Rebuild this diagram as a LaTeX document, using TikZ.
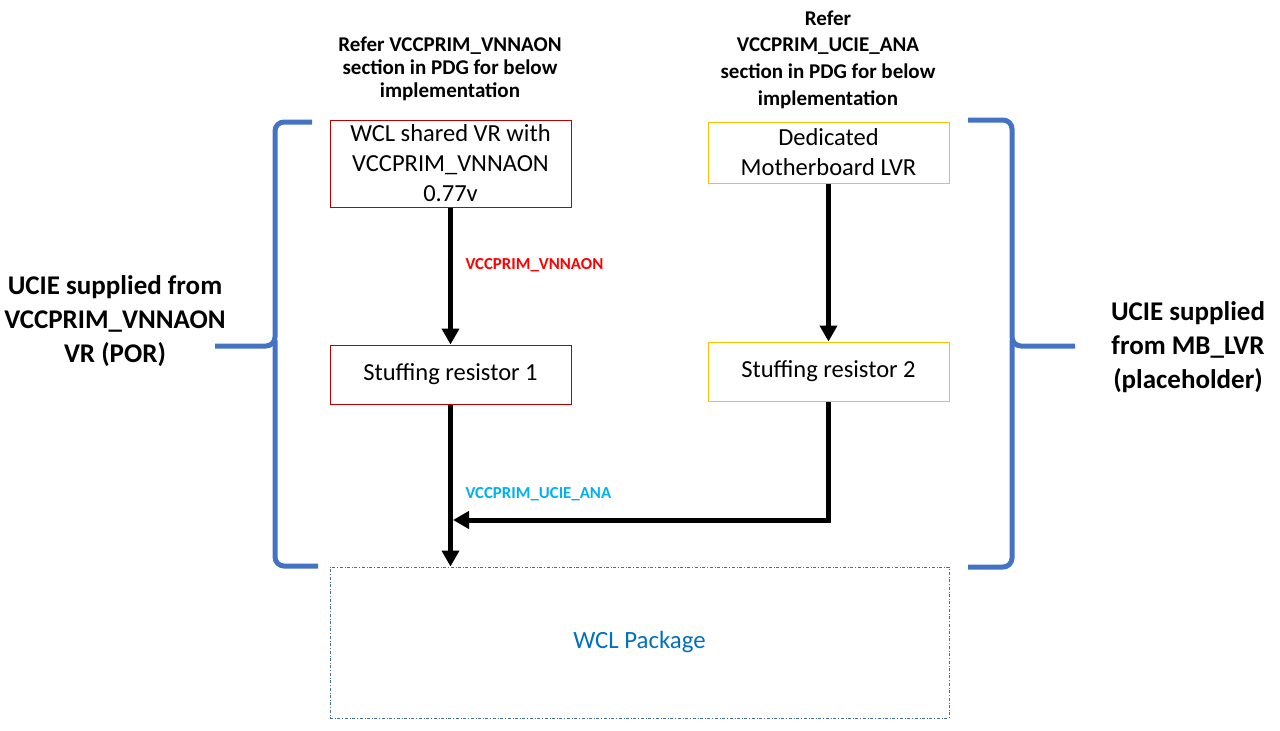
\documentclass[tikz,border=0pt]{standalone}
\usepackage{fontspec}
\setmainfont{Carlito}
\usetikzlibrary{arrows.meta}
\definecolor{bred}{RGB}{192,0,0}
\definecolor{byel}{RGB}{255,192,0}
\definecolor{bblue}{RGB}{68,114,196}
\definecolor{pkgline}{RGB}{65,113,156}
\definecolor{pkgtext}{RGB}{0,112,192}
\definecolor{lred}{RGB}{255,0,0}
\definecolor{lcyan}{RGB}{0,176,240}
\tikzset{
  redbox/.style={draw=bred, line width=1pt, minimum width=241pt, inner sep=0pt, align=center, font=\fontsize{24.5}{30}\selectfont},
  yelbox/.style={draw=byel, line width=1pt, minimum width=241pt, inner sep=0pt, align=center, font=\fontsize{24.5}{30}\selectfont},
  header/.style={align=center, font=\bfseries\fontsize{21}{23}\selectfont},
  headerwide/.style={align=center, font=\bfseries\fontsize{21}{26.7}\selectfont},
  sidelabel/.style={align=center, font=\bfseries\fontsize{27}{34}\selectfont},
  flow/.style={line width=5pt, -{Triangle[length=16pt,width=17pt]}},
  brace/.style={draw=bblue, line width=5pt, rounded corners=9pt},
  wire/.style={font=\bfseries\fontsize{16.8}{18}\selectfont, anchor=west}
}
\begin{document}
\begin{tikzpicture}[x=1pt,y=-1pt]
\useasboundingbox (0,0) rectangle (1280,731);
% header texts
\node[header] (h1) at (450,69) {Refer VCCPRIM\_VNNAON\\section in PDG for below\\implementation};
\node[headerwide] (h2) at (828,59.5) {Refer\\VCCPRIM\_UCIE\_ANA\\section in PDG for below\\implementation};
% boxes
\node[redbox, minimum height=87pt] (b1) at (450.5,163.5) {WCL shared VR with\\VCCPRIM\_VNNAON\\0.77v};
\node[yelbox, minimum height=61pt] (b2) at (828.5,152.5) {Dedicated\\Motherboard LVR};
\node[redbox, minimum height=59pt] (b3) at (450.5,374.5) {Stuffing resistor 1};
\node[yelbox, minimum height=59pt] (b4) at (828.5,371.5) {Stuffing resistor 2};
\node[draw=pkgline, dash dot, line width=1pt, minimum width=619pt, minimum height=151pt, inner sep=0pt,
      text=pkgtext, font=\fontsize{24.8}{28}\selectfont] (pkg) at (639.5,642.5) {WCL Package};
% side labels
\node[sidelabel] (sl) at (115,321) {UCIE supplied from\\VCCPRIM\_VNNAON\\VR (POR)};
\node[sidelabel] (sr) at (1188,347) {UCIE supplied\\from MB\_LVR\\(placeholder)};
% connectors
\draw[flow] (b1.south) -- (b3.north);
\draw[flow] (b2.south) -- (b4.north);
\draw[flow] (b3.south) -- (pkg.north -| b3.south);
\coordinate (join) at (453,520);
\draw[flow] (b4.south) |- (join);
% wire labels
\node[wire, text=lred] (l1) at (462,265) {VCCPRIM\_VNNAON};
\node[wire, text=lcyan] (l2) at (462,494) {VCCPRIM\_UCIE\_ANA};
% braces
\draw[brace] (312,122) -- (275,122) -- (275,346) -- (215,346);
\draw[brace] (275,340) -- (275,566) -- (318,566);
\draw[brace] (968,120) -- (1012,120) -- (1012,346) -- (1075,346);
\draw[brace] (1012,340) -- (1012,567) -- (968,567);
\end{tikzpicture}
\end{document}
